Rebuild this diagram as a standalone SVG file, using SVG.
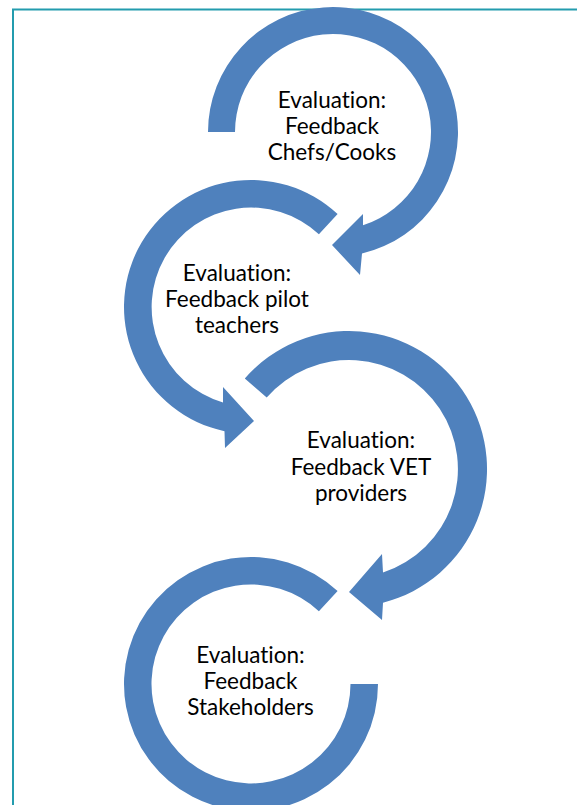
<svg xmlns="http://www.w3.org/2000/svg" width="577" height="805" viewBox="0 0 577 805">
  <style>
    .arrow { fill: #4F81BD; stroke: none; }
    .label { font-family: Lato, "Noto Sans", "DejaVu Sans", sans-serif; font-size: 22.5px; fill: #000; text-anchor: middle; font-variant-ligatures: none; font-feature-settings: "liga" 0, "clig" 0; }
    .frame { fill: none; stroke: #239CAE; stroke-width: 2; }
  </style>

  <!-- page frame, running off the right and bottom edges -->
  <rect class="frame" x="13" y="9.5" width="620" height="830"/>

  <g id="connectors">
    <!-- step 1: clockwise circular arrow, centre (333,132) -->
    <path class="arrow" d="M208,132 A125,125 0 1 1 362,253.6 L360,275 L332,245 L363,214 L363,225.3 A98,98 0 1 0 235,132 Z"/>
    <!-- step 2: counter-clockwise circular arrow, centre (251,307) -->
    <path class="arrow" d="M337.6,214.1 A127,127 0 1 0 224.5,431.2 L225,448 L254,421 L223,387 L223,402.5 A99.5,99.5 0 1 1 318.9,234.2 Z"/>
    <!-- step 3: clockwise circular arrow, centre (349,469) -->
    <path class="arrow" d="M244.8,378.5 A138,138 0 1 1 383,602.7 L382,620 L349,592 L382,554 L383,572.6 A109,109 0 1 0 266.7,397.5 Z"/>
    <!-- step 4: closing arc without head, centre (251,684) -->
    <path class="arrow" d="M337.6,591.1 A127,127 0 1 0 378,684 L350.5,684 A99.5,99.5 0 1 1 318.9,611.2 Z"/>
  </g>

  <g id="node-chefs">
    <text class="label" x="332" y="108">Evaluation:</text>
    <text class="label" x="332" y="134">Feedback</text>
    <text class="label" x="332" y="160">Chefs/Cooks</text>
  </g>

  <g id="node-teachers">
    <text class="label" x="237" y="281">Evaluation:</text>
    <text class="label" x="237" y="307">Feedback pilot</text>
    <text class="label" x="237" y="333">teachers</text>
  </g>

  <g id="node-vet">
    <text class="label" x="361" y="448">Evaluation:</text>
    <text class="label" x="361" y="474.5">Feedback VET</text>
    <text class="label" x="361" y="501">providers</text>
  </g>

  <g id="node-stakeholders">
    <text class="label" x="250.5" y="663">Evaluation:</text>
    <text class="label" x="250.5" y="689">Feedback</text>
    <text class="label" x="250.5" y="715">Stakeholders</text>
  </g>
</svg>
